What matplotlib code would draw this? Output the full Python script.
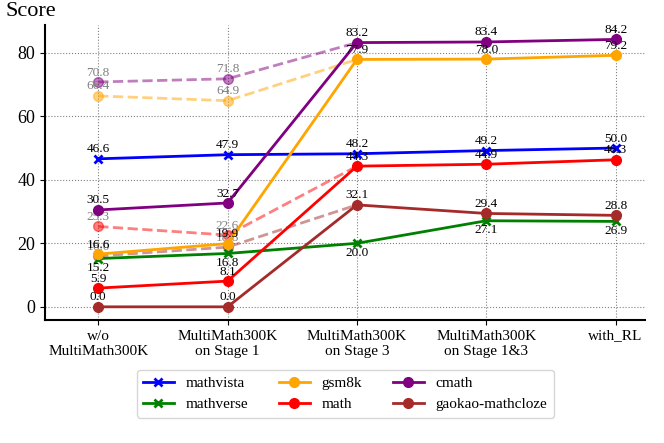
import matplotlib
matplotlib.use("Agg")
import matplotlib.pyplot as plt

plt.rcParams['font.family'] = ['Liberation Serif', 'DejaVu Serif']

categories = ["w/o\nMultiMath300K", "MultiMath300K\non Stage 1", "MultiMath300K\non Stage 3",
              "MultiMath300K\non Stage 1&3", "with_RL"]
mathvista = [46.6, 47.9, 48.2, 49.2, 50.0]
mathverse = [15.2, 16.8, 20.0, 27.1, 26.9]
gsm8k = [16.6, 19.9, 77.9, 78.0, 79.2]
math_ = [5.9, 8.1, 44.3, 44.9, 46.3]
cmath = [30.5, 32.7, 83.2, 83.4, 84.2]
gaokao = [0.0, 0.0, 32.1, 29.4, 28.8]

# dashed reference series (first two stages, joined to stage 3)
gsm8k_ref = [66.4, 64.9]
math_ref = [25.3, 22.6]
cmath_ref = [70.8, 71.8]
gaokao_ref = [16.0, 18.8]

x = list(range(len(categories)))

fig, ax = plt.subplots(figsize=(6.64, 4.43), dpi=100)
fig.subplots_adjust(left=0.068, right=0.972, top=0.944, bottom=0.278)

ref_series = [(gsm8k_ref, gsm8k, 'orange'), (math_ref, math_, 'red'),
              (cmath_ref, cmath, 'purple'), (gaokao_ref, gaokao, 'brown')]
for ref, full, c in ref_series:
    ys = ref + [full[2]]
    ax.plot(x[:3], ys, linestyle='--', color=c, alpha=0.5, linewidth=2, zorder=2)
    ax.plot(x[:2], ref, linestyle='none', marker='o', color=c, alpha=0.5, markersize=7, zorder=2)
    for xi, v in zip(x[:2], ref):
        ax.annotate(f"{v:.1f}", (xi, v), xytext=(0, 2.5), textcoords='offset points',
                    ha='center', va='bottom', fontsize=9.5, color='gray')

series = [("mathvista", mathvista, 'blue', 'x'),
          ("mathverse", mathverse, 'green', 'x'),
          ("gsm8k", gsm8k, 'orange', 'o'),
          ("math", math_, 'red', 'o'),
          ("cmath", cmath, 'purple', 'o'),
          ("gaokao-mathcloze", gaokao, 'brown', 'o')]
for name, ys, c, m in series:
    ax.plot(x, ys, color=c, marker=m, linewidth=2, markersize=7 if m == 'o' else 6,
            markeredgewidth=2 if m == 'x' else 1, label=name, zorder=3)
    below = name == "mathverse"
    for xi, v in zip(x, ys):
        ax.annotate(f"{v:.1f}", (xi, v), xytext=(0, -2.5 if below else 2.5), textcoords='offset points',
                    ha='center', va='top' if below else 'bottom', fontsize=9.5, color='black', zorder=4)

ax.set_xticks(x)
ax.set_xticklabels(categories, fontsize=11)
ax.set_yticks([0, 20, 40, 60, 80])
ax.tick_params(axis='y', labelsize=13)
ax.set_xlim(-0.41, 4.23)
ax.set_ylim(-4.1, 88.8)
ax.grid(True, linestyle=':', color='gray', linewidth=0.8)
ax.spines['top'].set_visible(False)
ax.spines['right'].set_visible(False)
ax.spines['left'].set_linewidth(1.5)
ax.spines['bottom'].set_linewidth(1.5)
fig.text(0.008, 0.995, "Score", fontsize=16, ha='left', va='top')

ax.legend(loc='upper center', bbox_to_anchor=(0.5, -0.145), ncol=3, fontsize=11, frameon=True,
          fancybox=True, columnspacing=2.0)

fig.savefig("out.png", dpi=100)
